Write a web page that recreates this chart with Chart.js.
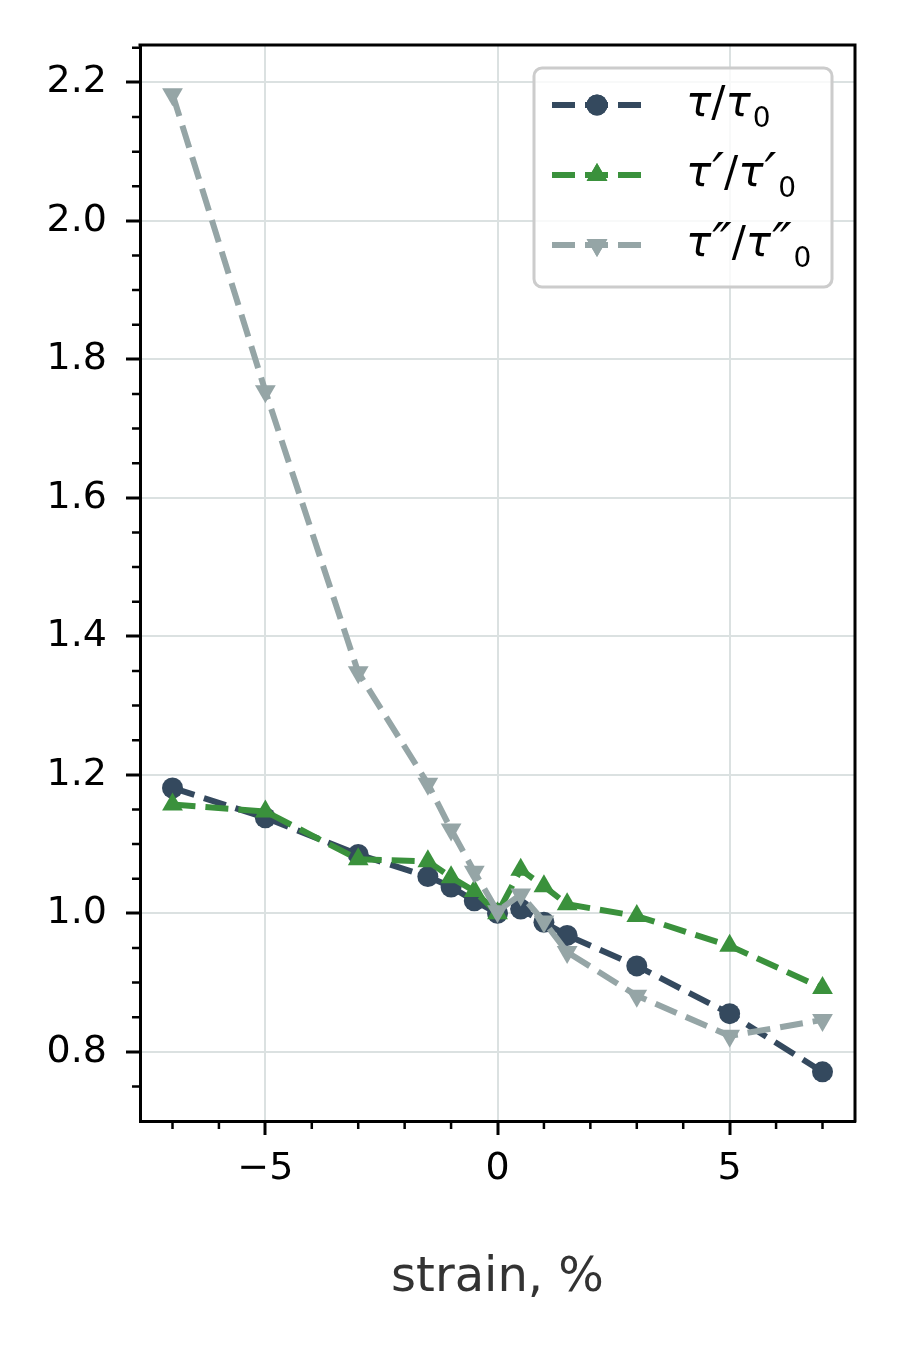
<!DOCTYPE html>
<html>
<head>
<meta charset="utf-8">
<script src="https://cdn.jsdelivr.net/npm/chart.js@4/dist/chart.umd.min.js"></script>
<style>
  html, body { margin: 0; padding: 0; background: #fff; }
  canvas { display: block; }
</style>
</head>
<body>
<canvas id="grafico" width="900" height="1350"></canvas>
<script>
// dados
const strain = [-7, -5, -3, -1.5, -1, -0.5, 0, 0.5, 1, 1.5, 3, 5, 7];
const tau   = [1.181, 1.138, 1.085, 1.053, 1.038, 1.018, 1.0, 1.006, 0.987, 0.968, 0.924, 0.855, 0.771];
const tauP  = [1.157, 1.147, 1.078, 1.075, 1.052, 1.032, 1.0, 1.063, 1.039, 1.013, 0.996, 0.953, 0.892];
const tauPP = [2.183, 1.754, 1.348, 1.187, 1.121, 1.060, 1.003, 1.027, 0.988, 0.944, 0.881, 0.823, 0.846];
const xTicks = [-5, 0, 5];
const yTicks = [0.8, 1.0, 1.2, 1.4, 1.6, 1.8, 2.0, 2.2];

const corTau = '#34495e';
const corTauP = '#3a913c';
const corTauPP = '#95a5a6';
const fonte = 'DejaVu Sans';

Chart.defaults.font.family = fonte;

const pontos = serie => strain.map((x, i) => ({ x: x, y: serie[i] }));

// ticks menores (a cada 1 no x, a cada 0.05 no y)
const xMinor = [];
for (let k = -7; k <= 7; k++) if (k % 5 !== 0) xMinor.push(k);
const yMinor = [];
for (let k = 15; k <= 45; k++) if (k % 4 !== 0) yMinor.push(k * 0.05);

const itensLegenda = [
    { partes: [['τ', 'it'], ['/', ''], ['τ', 'it'], ['0', 'sub']], cor: corTau, estilo: 'circle', raio: 10.5, rot: 0 },
    { partes: [['τ', 'it'], ['′', 'pr'], ['/', ''], ['τ', 'it'], ['′', 'pr'], ['0', 'sub']], cor: corTauP, estilo: 'triangle', raio: 12, rot: 0 },
    { partes: [['τ', 'it'], ['″', 'pr'], ['/', ''], ['τ', 'it'], ['″', 'pr'], ['0', 'sub']], cor: corTauPP, estilo: 'triangle', raio: 12, rot: 180 }
];

function caixaArredondada(ctx, x, y, w, h, r) {
    ctx.beginPath();
    ctx.moveTo(x + r, y);
    ctx.arcTo(x + w, y, x + w, y + h, r);
    ctx.arcTo(x + w, y + h, x, y + h, r);
    ctx.arcTo(x, y + h, x, y, r);
    ctx.arcTo(x, y, x + w, y, r);
    ctx.closePath();
}

function escreveMath(ctx, partes, x, base) {
    ctx.textBaseline = 'alphabetic';
    ctx.textAlign = 'left';
    ctx.fillStyle = '#000';
    partes.forEach(([t, tipo]) => {
        let dy = 0;
        if (tipo === 'it') ctx.font = 'italic 42px "' + fonte + '"';
        else if (tipo === 'sub') { ctx.font = '28px "' + fonte + '"'; dy = 11; x += 2; }
        else if (tipo === 'pr') { ctx.font = 'italic 52px "' + fonte + '"'; dy = 4; x += 1; }
        else ctx.font = '42px "' + fonte + '"';
        ctx.fillText(t, x, base + dy);
        x += ctx.measureText(t).width;
    });
}

const extras = {
    id: 'extras',
    afterDraw(chart) {
        const { ctx, chartArea: a, scales: { x, y } } = chart;
        ctx.save();
        // ticks menores
        ctx.strokeStyle = '#000';
        ctx.lineWidth = 2.5;
        ctx.beginPath();
        xMinor.forEach(v => {
            const px = x.getPixelForValue(v);
            ctx.moveTo(px, a.bottom);
            ctx.lineTo(px, a.bottom + 8);
        });
        yMinor.forEach(v => {
            const py = y.getPixelForValue(v);
            ctx.moveTo(a.left, py);
            ctx.lineTo(a.left - 8, py);
        });
        ctx.stroke();
        // moldura de cima e da direita
        ctx.lineWidth = 3;
        ctx.lineJoin = 'miter';
        ctx.beginPath();
        ctx.moveTo(a.left - 1.5, a.top);
        ctx.lineTo(a.right, a.top);
        ctx.lineTo(a.right, a.bottom + 1.5);
        ctx.stroke();

        // legenda
        caixaArredondada(ctx, 534, 68, 298, 219, 8);
        ctx.fillStyle = 'rgba(255,255,255,0.8)';
        ctx.fill();
        ctx.strokeStyle = '#cccccc';
        ctx.lineWidth = 3;
        ctx.stroke();
        itensLegenda.forEach((it, i) => {
            const cy = 105 + i * 70;
            ctx.strokeStyle = it.cor;
            ctx.lineWidth = 6;
            ctx.setLineDash([23, 10]);
            ctx.beginPath();
            ctx.moveTo(552, cy);
            ctx.lineTo(642, cy);
            ctx.stroke();
            ctx.setLineDash([]);
            ctx.fillStyle = it.cor;
            Chart.helpers.drawPoint(ctx, { pointStyle: it.estilo, radius: it.raio, rotation: it.rot, borderWidth: 0 }, 597, cy);
            ctx.fill();
            escreveMath(ctx, it.partes, 686, cy + 11);
        });
        ctx.restore();
    }
};

const estiloSerie = (cor, estilo, raio, rot, ordem) => ({
    borderColor: cor,
    backgroundColor: cor,
    pointBackgroundColor: cor,
    borderWidth: 6,
    borderDash: [23, 10],
    pointStyle: estilo,
    pointRadius: raio,
    pointHoverRadius: raio,
    pointRotation: rot,
    pointBorderWidth: 0,
    tension: 0,
    fill: false,
    order: ordem
});

new Chart(document.getElementById('grafico').getContext('2d'), {
    type: 'line',
    data: {
        datasets: [
            Object.assign({ label: 'τ/τ0', data: pontos(tau) }, estiloSerie(corTau, 'circle', 10.5, 0, 3)),
            Object.assign({ label: "τ'/τ'0", data: pontos(tauP) }, estiloSerie(corTauP, 'triangle', 12, 0, 2)),
            Object.assign({ label: "τ''/τ''0", data: pontos(tauPP) }, estiloSerie(corTauPP, 'triangle', 12, 180, 1))
        ]
    },
    options: {
        responsive: false,
        animation: false,
        devicePixelRatio: 1,
        layout: { padding: { top: 45, right: 45, bottom: 0, left: 0 } },
        scales: {
            x: {
                type: 'linear',
                min: -7.7,
                max: 7.7,
                afterBuildTicks: s => { s.ticks = xTicks.map(v => ({ value: v })); },
                afterFit: s => { s.height = 229; },
                ticks: {
                    autoSkip: false,
                    maxRotation: 0,
                    padding: 11,
                    color: '#000',
                    font: { size: 38 },
                    callback: v => String(v).replace('-', '\u2212')
                },
                grid: { color: '#dbe1e1', lineWidth: 2, tickColor: '#000', tickWidth: 3, tickLength: 14 },
                border: { color: '#000', width: 3 },
                title: {
                    display: true,
                    text: 'strain, %',
                    color: '#333333',
                    font: { size: 48 },
                    padding: { top: 0, bottom: 43 }
                }
            },
            y: {
                type: 'linear',
                min: 0.7,
                max: 2.254,
                afterBuildTicks: s => { s.ticks = yTicks.map(v => ({ value: v })); },
                afterFit: s => { s.width = 140; },
                ticks: {
                    padding: 19,
                    color: '#000',
                    font: { size: 38 },
                    callback: v => v.toFixed(1)
                },
                grid: { color: '#dbe1e1', lineWidth: 2, tickColor: '#000', tickWidth: 3, tickLength: 14 },
                border: { color: '#000', width: 3 }
            }
        },
        plugins: {
            legend: { display: false },
            tooltip: { enabled: false }
        }
    },
    plugins: [extras]
});
</script>
</body>
</html>
